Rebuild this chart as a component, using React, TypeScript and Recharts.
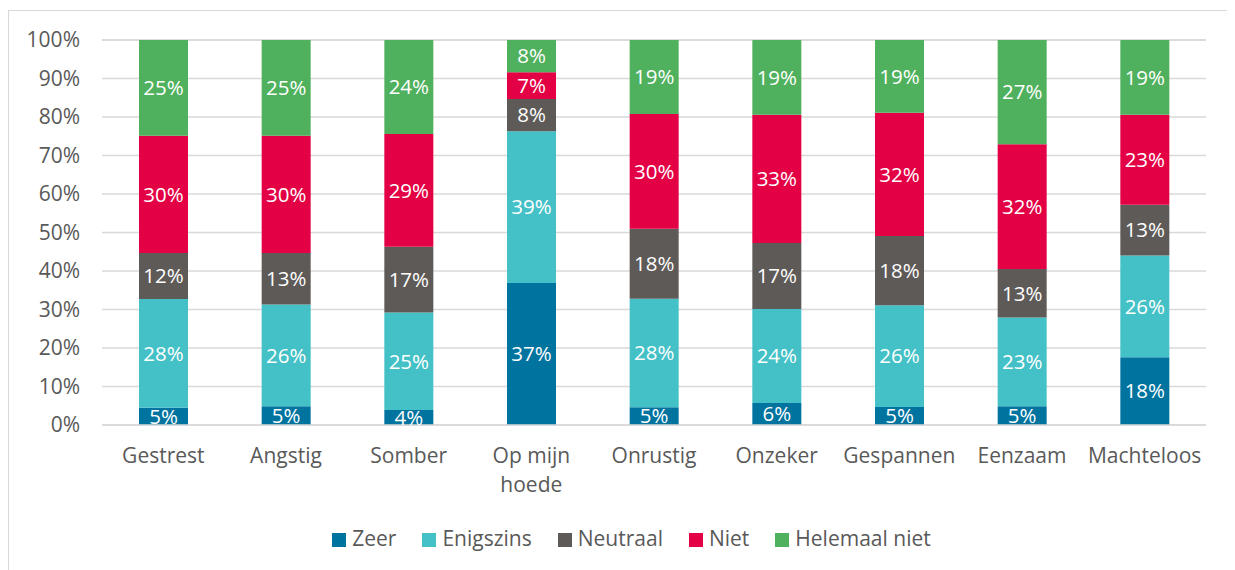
import { Bar, BarChart, CartesianGrid, LabelList, Legend, XAxis, YAxis } from 'recharts'

const categories = [
  'Gestrest',
  'Angstig',
  'Somber',
  'Op mijn hoede',
  'Onrustig',
  'Onzeker',
  'Gespannen',
  'Eenzaam',
  'Machteloos',
]

// percentages per category
const zeer = [4.5, 4.9, 3.9, 36.9, 4.6, 5.7, 4.7, 4.9, 17.6]
const enigszins = [28.2, 26.4, 25.3, 39.4, 28.2, 24.4, 26.4, 23.0, 26.4]
const neutraal = [12.0, 13.4, 17.1, 8.4, 18.2, 17.2, 18.0, 12.6, 13.2]
const niet = [30.4, 30.4, 29.3, 6.9, 29.8, 33.3, 32.0, 32.4, 23.4]
const helemaalNiet = [24.9, 24.9, 24.4, 8.4, 19.2, 19.4, 18.9, 27.1, 19.4]

const yTicks = [0, 10, 20, 30, 40, 50, 60, 70, 80, 90, 100]

const series = [
  { key: 'zeer', name: 'Zeer', color: '#00739F' },
  { key: 'enigszins', name: 'Enigszins', color: '#43C1C6' },
  { key: 'neutraal', name: 'Neutraal', color: '#5E5A57' },
  { key: 'niet', name: 'Niet', color: '#E30045' },
  { key: 'helemaalNiet', name: 'Helemaal niet', color: '#4FB15D' },
]

const chartData = categories.map((name, i) => ({
  name,
  zeer: zeer[i],
  enigszins: enigszins[i],
  neutraal: neutraal[i],
  niet: niet[i],
  helemaalNiet: helemaalNiet[i],
}))

const textColor = '#595959'
const font = '"Open Sans", sans-serif'

// wrap long category names onto two lines, like the original
function wrapLabel(label: string, max = 11) {
  const lines: string[] = []
  let line = ''
  for (const word of label.split(' ')) {
    const next = line ? line + ' ' + word : word
    if (next.length > max && line) {
      lines.push(line)
      line = word
    } else {
      line = next
    }
  }
  if (line) lines.push(line)
  return lines
}

function CategoryTick(props: any) {
  const { x, y, payload } = props
  const lines = wrapLabel(String(payload.value))
  return (
    <text x={x} y={y} textAnchor='middle' fill={textColor} fontSize={21} fontFamily={font}>
      {lines.map((l, i) => (
        <tspan key={i} x={x} dy={i === 0 ? 38 : 29}>
          {l}
        </tspan>
      ))}
    </text>
  )
}

export default function App() {
  return (
    <div
      style={{
        marginTop: 2,
        width: 1224,
        height: 559,
        border: '1px solid #d9d9d9',
        borderBottom: 'none',
        fontFamily: font,
      }}
    >
      <BarChart
        width={1224}
        height={559}
        data={chartData}
        margin={{ top: 29, right: 27, bottom: 16, left: 0 }}
        barSize={49}
      >
        <CartesianGrid vertical={false} stroke='#d9d9d9' strokeWidth={1.5} />
        <XAxis
          dataKey='name'
          axisLine={{ stroke: '#d9d9d9', strokeWidth: 1.5 }}
          tickLine={false}
          tickSize={0}
          tickMargin={0}
          height={99}
          interval={0}
          tick={<CategoryTick />}
        />
        <YAxis
          domain={[0, 100]}
          ticks={yTicks}
          width={93}
          axisLine={false}
          tickLine={false}
          tickSize={0}
          tickMargin={22}
          tick={{ fill: textColor, fontSize: 21, fontFamily: font }}
          tickFormatter={(v) => `${v}%`}
        />
        <Legend
          iconType='square'
          iconSize={14}
          itemSorter={(item: any) => series.findIndex((s) => s.name === item.value)}
          wrapperStyle={{ left: 37, height: 30, fontSize: 21, fontFamily: font }}
          formatter={(value) => (
            <span style={{ color: textColor, marginLeft: 2, marginRight: 16 }}>{value}</span>
          )}
        />
        {series.map((s) => (
          <Bar
            key={s.key}
            dataKey={s.key}
            name={s.name}
            stackId='a'
            fill={s.color}
            isAnimationActive={false}
          >
            <LabelList
              dataKey={s.key}
              position='center'
              fill='#ffffff'
              fontSize={20.5}
              fontFamily={font}
              formatter={(v: any) => `${Math.round(Number(v))}%`}
            />
          </Bar>
        ))}
      </BarChart>
    </div>
  )
}
